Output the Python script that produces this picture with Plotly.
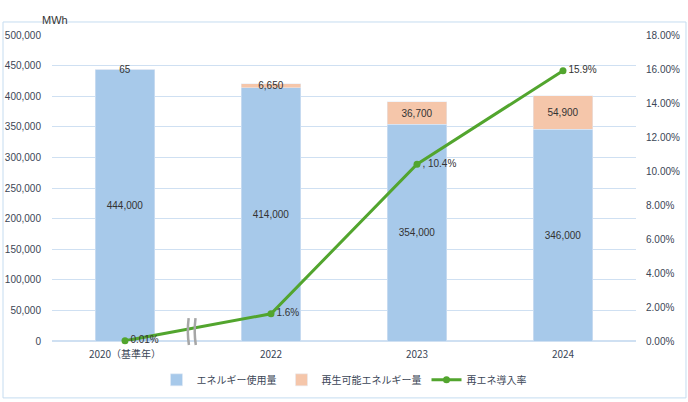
import plotly.graph_objects as go

years = ["2020（基準年）", "2022", "2023", "2024"]
energy_use = [444000, 414000, 354000, 346000]
renewable = [65, 6650, 36700, 54900]
re_rate = [0.0001, 0.016, 0.104, 0.159]
re_rate_text = ["0.01%", "1.6%", ", 10.4%", "15.9%"]

font_jp = "Noto Sans CJK JP"
font_num = "Liberation Sans"
txt_col = "#3B4656"
grid_col = "#CFE0F2"

fig = go.Figure()
fig.add_trace(go.Bar(
    x=years, y=energy_use, name="エネルギー使用量",
    marker_color="#A7C9EA", width=0.41,
    text=[f"{v:,}" for v in energy_use], textposition="inside",
    insidetextanchor="middle", constraintext="none",
    textfont=dict(family=font_num, size=10, color="#333"),
))
fig.add_trace(go.Bar(
    x=years, y=renewable, name="再生可能エネルギー量",
    marker_color="#F5C6AA", width=0.41,
    text=[f"{v:,}" for v in renewable], textposition="inside",
    insidetextanchor="middle", constraintext="none",
    textfont=dict(family=font_num, size=10, color="#333"),
))
fig.add_trace(go.Scatter(
    x=years, y=re_rate, name="再エネ導入率", yaxis="y2",
    mode="lines+markers+text", line=dict(color="#52A52E", width=3),
    marker=dict(size=7, color="#52A52E"),
    text=re_rate_text, textposition="middle right",
    textfont=dict(family=font_num, size=10, color="#333"),
    cliponaxis=False,
))

# axis break marker between 2020 and 2022
fig.add_shape(type="rect", xref="x", yref="y", x0=0.363, x1=0.555,
              y0=18000, y1=58000, fillcolor="white", line_width=0, layer="below")
for xs in (0.432, 0.479):
    fig.add_shape(type="path", xref="x", yref="paper",
                  path=f"M {xs + 0.006} -0.013 Q {xs - 0.008} 0.03 {xs + 0.004} 0.075",
                  line=dict(color="#A6A6A6", width=2.5))

# outer frame
fig.add_shape(type="rect", xref="paper", yref="paper",
              x0=-0.0839, x1=1.0856, y0=-0.186, y1=1.0425,
              line=dict(color="#C5DCF0", width=1), fillcolor="rgba(0,0,0,0)")

fig.add_annotation(text="MWh", xref="paper", yref="paper", x=-0.02, y=1.075,
                   showarrow=False, font=dict(family=font_num, size=11, color="#333"))

fig.update_layout(
    width=688, height=402,
    margin=dict(l=52, r=52, t=35, b=61, autoexpand=False),
    barmode="stack",
    plot_bgcolor="white", paper_bgcolor="white",
    font=dict(family=font_jp, size=10, color=txt_col),
    xaxis=dict(range=[-0.5, 3.5], showgrid=False, showline=False, ticks="",
               automargin=False, ticklabelstandoff=6,
               tickfont=dict(family=font_jp, size=10, color=txt_col)),
    yaxis=dict(range=[0, 500000], dtick=50000, tickformat=",",
               gridcolor=grid_col, zeroline=True, zerolinecolor=grid_col,
               showline=False, ticks="", ticklabelstandoff=10, automargin=False,
               tickfont=dict(family=font_num, size=10, color=txt_col)),
    yaxis2=dict(range=[0, 0.18], dtick=0.02, tickformat=".2%", overlaying="y",
                side="right", showgrid=False, zeroline=False, showline=False,
                ticks="", ticklabelstandoff=9, automargin=False,
                tickfont=dict(family=font_num, size=10, color=txt_col)),
    legend=dict(orientation="h", x=0.5, xanchor="center", y=-0.127, yanchor="middle",
                font=dict(family=font_jp, size=10, color=txt_col), traceorder="normal"),
    showlegend=True,
)

# drop the default page margin so the figure sits at the window's corner
fig.write_html("out.html", config={"displayModeBar": False},
               post_script="document.body.style.margin='0';")
